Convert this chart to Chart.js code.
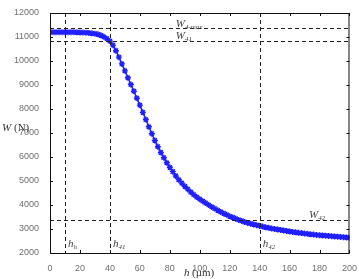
<!DOCTYPE html>
<html>
<head>
<meta charset="utf-8">
<script src="https://cdn.jsdelivr.net/npm/chart.js@4/dist/chart.umd.min.js"></script>
<style>
  html, body { margin: 0; padding: 0; background: #fff; }
</style>
</head>
<body>
<canvas id="chart" width="359" height="279"></canvas>
<script>
// h (um)
const hValues = [
    0, 2, 4, 6, 8, 10, 12, 14, 16, 18,
    20, 22, 24, 26, 28, 30, 32, 34, 36, 38,
    40, 42, 44, 46, 48, 50, 52, 54, 56, 58,
    60, 62, 64, 66, 68, 70, 72, 74, 76, 78,
    80, 82, 84, 86, 88, 90, 92, 94, 96, 98,
    100, 102, 104, 106, 108, 110, 112, 114, 116, 118,
    120, 122, 124, 126, 128, 130, 132, 134, 136, 138,
    140, 142, 144, 146, 148, 150, 152, 154, 156, 158,
    160, 162, 164, 166, 168, 170, 172, 174, 176, 178,
    180, 182, 184, 186, 188, 190, 192, 194, 196, 198,
    200
];

// W (N)
const wValues = [
    11200, 11200, 11200, 11200, 11200, 11200, 11200, 11200, 11200, 11195,
    11190, 11185, 11180, 11170, 11155, 11140, 11110, 11070, 11010, 10930,
    10830, 10660, 10430, 10160, 9880, 9590, 9300, 9020, 8740, 8450,
    8160, 7860, 7560, 7260, 6970, 6690, 6430, 6190, 5970, 5760,
    5570, 5390, 5210, 5050, 4910, 4780, 4660, 4540, 4430, 4330,
    4240, 4160, 4080, 4000, 3920, 3850, 3780, 3710, 3650, 3590,
    3530, 3480, 3430, 3380, 3335, 3290, 3255, 3220, 3190, 3160,
    3130, 3100, 3070, 3050, 3020, 3000, 2980, 2960, 2940, 2920,
    2900, 2880, 2860, 2840, 2830, 2810, 2800, 2780, 2770, 2750,
    2740, 2730, 2720, 2710, 2700, 2690, 2680, 2670, 2660, 2650,
    2640
];

// dashed reference lines
const refH = [10, 40, 140];
const refW = [11360, 10830, 3360];

// annotation labels: [main, subscript, x value, y value]
const refLabels = [
    ['W', '4-max', 84, 11420],
    ['W', '41', 84, 10900],
    ['W', '42', 173, 3440],
    ['h', 'h', 12, 2250],
    ['h', '41', 42, 2250],
    ['h', '42', 142, 2250]
];

const blue = '#1f1fff';

const overlay = {
    id: 'overlay',
    afterDraw(chart) {
        const ctx = chart.ctx;
        const xs = chart.scales.x, ys = chart.scales.y;
        const a = chart.chartArea;
        ctx.save();

        // dashed lines
        ctx.strokeStyle = '#222';
        ctx.lineWidth = 1;
        ctx.setLineDash([4, 3]);
        refH.forEach(h => {
            const px = Math.round(xs.getPixelForValue(h)) + 0.5;
            ctx.beginPath(); ctx.moveTo(px, a.top); ctx.lineTo(px, a.bottom); ctx.stroke();
        });
        refW.forEach(w => {
            const py = Math.round(ys.getPixelForValue(w)) + 0.5;
            ctx.beginPath(); ctx.moveTo(a.left, py); ctx.lineTo(a.right, py); ctx.stroke();
        });
        ctx.setLineDash([]);

        // frame
        ctx.strokeStyle = '#111';
        ctx.strokeRect(a.left + 0.5, a.top + 0.5, a.right - a.left - 1, a.bottom - a.top);

        // inward ticks
        for (let h = 0; h <= 200; h += 20) {
            const px = Math.round(xs.getPixelForValue(h)) + 0.5;
            ctx.beginPath();
            ctx.moveTo(px, a.bottom); ctx.lineTo(px, a.bottom - 3);
            ctx.moveTo(px, a.top); ctx.lineTo(px, a.top + 3);
            ctx.stroke();
        }
        for (let w = 2000; w <= 12000; w += 1000) {
            const py = Math.round(ys.getPixelForValue(w)) + 0.5;
            ctx.beginPath();
            ctx.moveTo(a.left, py); ctx.lineTo(a.left + 3, py);
            ctx.moveTo(a.right, py); ctx.lineTo(a.right - 3, py);
            ctx.stroke();
        }

        // labels
        ctx.fillStyle = '#444';
        ctx.textBaseline = 'alphabetic';
        refLabels.forEach(([m, sub, hv, wv]) => {
            const px = xs.getPixelForValue(hv), py = ys.getPixelForValue(wv);
            ctx.font = 'italic 11px "Liberation Serif"';
            ctx.textAlign = 'left';
            ctx.fillText(m, px, py);
            const mw = ctx.measureText(m).width;
            ctx.font = 'italic 7px "Liberation Serif"';
            ctx.fillText(sub, px + mw, py + 2);
        });

        // axis titles
        ctx.fillStyle = '#333';
        ctx.font = 'italic 11px "Liberation Serif"';
        ctx.textAlign = 'left';
        ctx.fillText('W', 2, 131);
        ctx.font = '11px "Liberation Serif"';
        ctx.fillText('(N)', 14, 131);
        ctx.font = 'italic 11px "Liberation Serif"';
        ctx.fillText('h', 184, 276);
        ctx.font = '11px "Liberation Serif"';
        ctx.fillText('(\u00b5m)', 192, 276);

        ctx.restore();
    }
};

new Chart(document.getElementById('chart'), {
    type: 'line',
    data: {
        labels: hValues,
        datasets: [{
            data: hValues.map((h, i) => ({ x: h, y: wValues[i] })),
            borderColor: blue,
            backgroundColor: blue,
            borderWidth: 1.5,
            pointStyle: 'star',
            pointRadius: 3,
            pointBorderColor: blue,
            pointBorderWidth: 1.4,
            fill: false,
            tension: 0
        }]
    },
    options: {
        responsive: false,
        animation: false,
        devicePixelRatio: 1,
        layout: { padding: { top: 13, right: 7, left: 0, bottom: 0 } },
        plugins: { legend: { display: false }, tooltip: { enabled: false } },
        scales: {
            x: {
                type: 'linear',
                min: 0, max: 200,
                grid: { display: false },
                border: { display: false },
                ticks: {
                    stepSize: 20, color: '#707070', padding: 2, maxRotation: 0,
                    font: { family: 'Liberation Sans', size: 9 },
                    callback: v => String(v)
                },
                afterFit(scale) { scale.height = 26; }
            },
            y: {
                min: 2000, max: 12000,
                grid: { display: false },
                border: { display: false },
                ticks: {
                    stepSize: 1000, color: '#707070', padding: 3,
                    font: { family: 'Liberation Sans', size: 9 },
                    callback: v => String(v)
                },
                afterFit(scale) { scale.width = 50; }
            }
        }
    },
    plugins: [overlay]
});
</script>
</body>
</html>
